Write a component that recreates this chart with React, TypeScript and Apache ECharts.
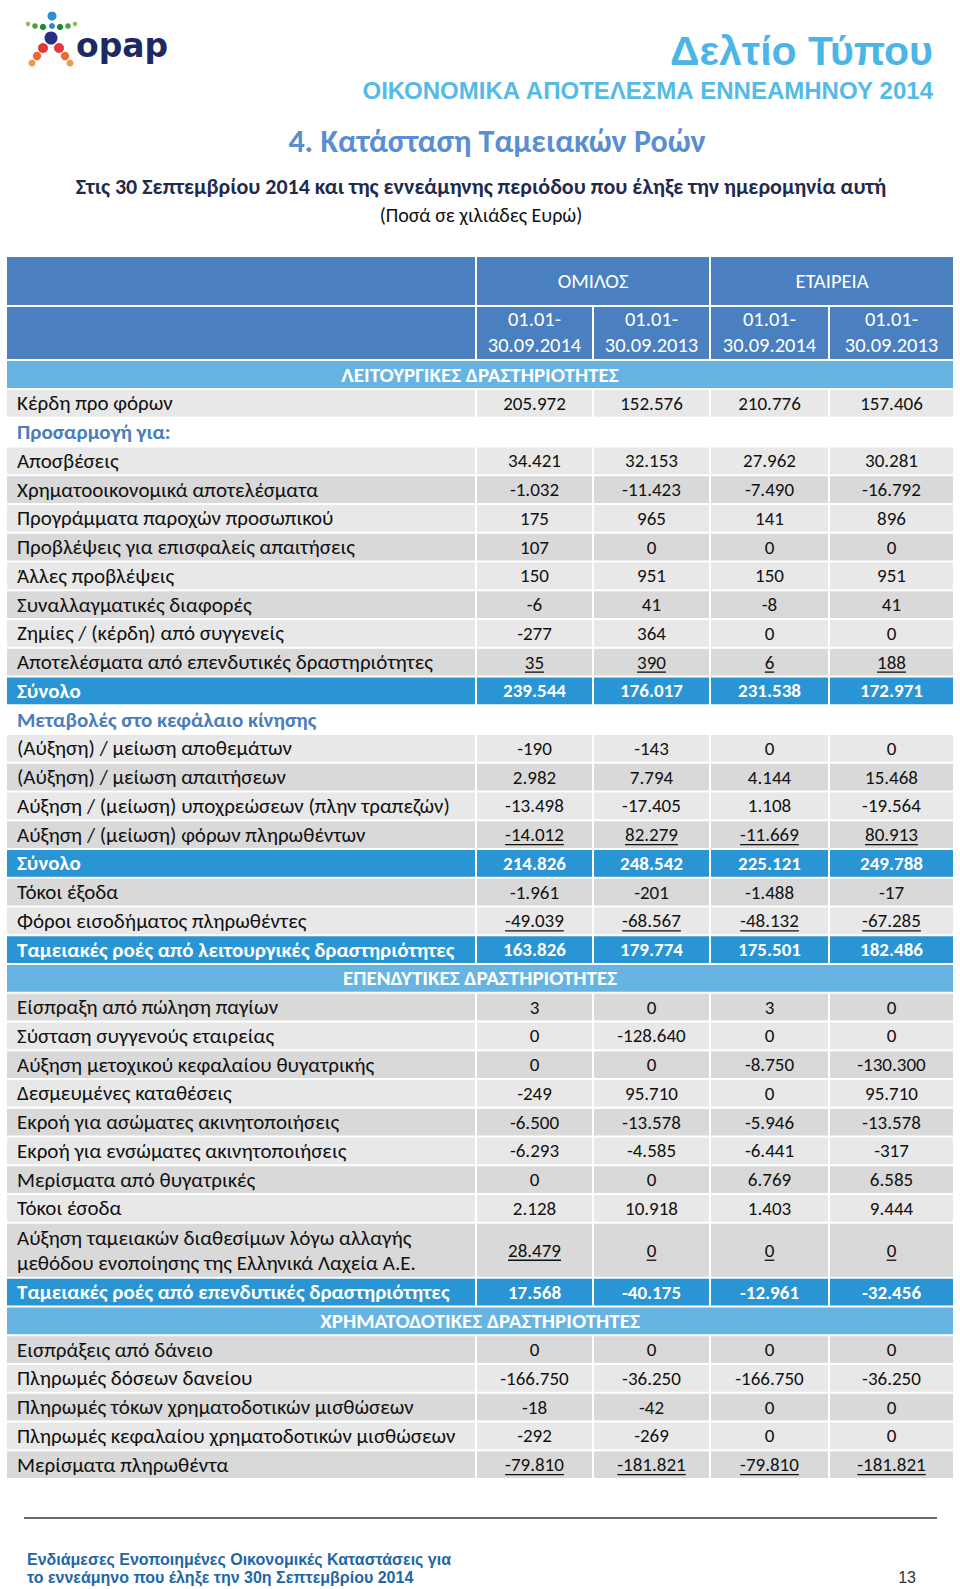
import React, { useEffect, useRef } from "react";
import * as echarts from "echarts";

// ---- data ----
const groupHeader = "ΟΜΙΛΟΣ";
const companyHeader = "ΕΤΑΙΡΕΙΑ";
const periodHeaders = ["01.01-\n30.09.2014", "01.01-\n30.09.2013", "01.01-\n30.09.2014", "01.01-\n30.09.2013"];
const firstSection = "ΛΕΙΤΟΥΡΓΙΚΕΣ ΔΡΑΣΤΗΡΙΟΤΗΤΕΣ";

// kind: r = row, s = sub heading, t = total, h = section band, d = double-line row
const rowKinds = [
  "r", "s", "r", "r", "r", "r", "r", "r", "r", "r", "t",
  "s", "r", "r", "r", "r", "t", "r", "r", "t",
  "h", "r", "r", "r", "r", "r", "r", "r", "r", "d", "t",
  "h", "r", "r", "r", "r", "r",
];
const rowLabels = [
  "Κέρδη προ φόρων",
  "Προσαρμογή για:",
  "Αποσβέσεις",
  "Χρηματοοικονομικά αποτελέσματα",
  "Προγράμματα παροχών προσωπικού",
  "Προβλέψεις για επισφαλείς απαιτήσεις",
  "Άλλες προβλέψεις",
  "Συναλλαγματικές διαφορές",
  "Ζημίες / (κέρδη) από συγγενείς",
  "Αποτελέσματα από επενδυτικές δραστηριότητες",
  "Σύνολο",
  "Μεταβολές στο κεφάλαιο κίνησης",
  "(Αύξηση) / μείωση αποθεμάτων",
  "(Αύξηση) / μείωση απαιτήσεων",
  "Αύξηση / (μείωση) υποχρεώσεων (πλην τραπεζών)",
  "Αύξηση / (μείωση) φόρων πληρωθέντων",
  "Σύνολο",
  "Τόκοι έξοδα",
  "Φόροι εισοδήματος πληρωθέντες",
  "Ταμειακές ροές από λειτουργικές δραστηριότητες",
  "ΕΠΕΝΔΥΤΙΚΕΣ ΔΡΑΣΤΗΡΙΟΤΗΤΕΣ",
  "Είσπραξη από πώληση παγίων",
  "Σύσταση συγγενούς εταιρείας",
  "Αύξηση μετοχικού κεφαλαίου θυγατρικής",
  "Δεσμευμένες καταθέσεις",
  "Εκροή για ασώματες ακινητοποιήσεις",
  "Εκροή για ενσώματες ακινητοποιήσεις",
  "Μερίσματα από θυγατρικές",
  "Τόκοι έσοδα",
  "Αύξηση ταμειακών διαθεσίμων λόγω αλλαγής\nμεθόδου ενοποίησης της Ελληνικά Λαχεία Α.Ε.",
  "Ταμειακές ροές από επενδυτικές δραστηριότητες",
  "ΧΡΗΜΑΤΟΔΟΤΙΚΕΣ ΔΡΑΣΤΗΡΙΟΤΗΤΕΣ",
  "Εισπράξεις από δάνειο",
  "Πληρωμές δόσεων δανείου",
  "Πληρωμές τόκων χρηματοδοτικών μισθώσεων",
  "Πληρωμές κεφαλαίου χρηματοδοτικών μισθώσεων",
  "Μερίσματα πληρωθέντα",
];
const underlined = [9, 15, 18, 29, 36];

const N = null;
const group2014 = [205972, N, 34421, -1032, 175, 107, 150, -6, -277, 35, 239544,
  N, -190, 2982, -13498, -14012, 214826, -1961, -49039, 163826,
  N, 3, 0, 0, -249, -6500, -6293, 0, 2128, 28479, 17568,
  N, 0, -166750, -18, -292, -79810];
const group2013 = [152576, N, 32153, -11423, 965, 0, 951, 41, 364, 390, 176017,
  N, -143, 7794, -17405, 82279, 248542, -201, -68567, 179774,
  N, 0, -128640, 0, 95710, -13578, -4585, 0, 10918, 0, -40175,
  N, 0, -36250, -42, -269, -181821];
const company2014 = [210776, N, 27962, -7490, 141, 0, 150, -8, 0, 6, 231538,
  N, 0, 4144, 1108, -11669, 225121, -1488, -48132, 175501,
  N, 3, 0, -8750, 0, -5946, -6441, 6769, 1403, 0, -12961,
  N, 0, -166750, 0, 0, -79810];
const company2013 = [157406, N, 30281, -16792, 896, 0, 951, 41, 0, 188, 172971,
  N, 0, 15468, -19564, 80913, 249788, -17, -67285, 182486,
  N, 0, 0, -130300, 95710, -13578, -317, 6585, 9444, 0, -32456,
  N, 0, -36250, 0, 0, -181821];

const titleMain = "Δελτίο Τύπου";
const titleSub = "ΟΙΚΟΝΟΜΙΚΑ ΑΠΟΤΕΛΕΣΜΑ ΕΝΝΕΑΜΗΝΟΥ 2014";
const sectionTitle = "4. Κατάσταση Ταμειακών Ροών";
const subtitle = "Στις 30 Σεπτεμβρίου 2014 και της εννεάμηνης περιόδου που έληξε την ημερομηνία αυτή";
const unitNote = "(Ποσά σε χιλιάδες Ευρώ)";
const footerLines = ["Ενδιάμεσες Ενοποιημένες Οικονομικές Καταστάσεις για", "το εννεάμηνο που έληξε την 30η Σεπτεμβρίου 2014"];
const pageNumber = "13";

// ---- helpers ----
function fmt(v: number | null): string {
  if (v === null) return "";
  const s = Math.abs(v).toString();
  let out = "";
  for (let i = 0; i < s.length; i++) {
    if (i > 0 && (s.length - i) % 3 === 0) out += ".";
    out += s[i];
  }
  return (v < 0 ? "-" : "") + out;
}

const CAL = "Carlito, Lato, 'Open Sans', sans-serif";
const ARIAL = "'Liberation Sans', Arial, sans-serif";
const NARROW = "'Liberation Sans Narrow', 'Arial Narrow', 'Liberation Sans', sans-serif";

let measureCtx: CanvasRenderingContext2D | null = null;
function textWidth(text: string, font: string): number {
  if (!measureCtx) measureCtx = document.createElement("canvas").getContext("2d");
  if (!measureCtx) return text.length * 9;
  measureCtx.font = font;
  return measureCtx.measureText(text).width;
}

function buildGraphics() {
  const els: any[] = [];
  const LFS = 21; // label font
  const NFS = 19; // numbers font
  const HFS = 20.5; // header font
  const tableL = 7;
  const labelR = 475;
  const cols = [[477, 592], [594, 709], [711, 828], [830, 953]];
  const tableR = 953;
  const cDark = "#D9D9D9";
  const cLight = "#E8E8E8";
  const cHead = "#4A80C0";
  const cBand = "#67B4E2";
  const cTotal = "#2A95D5";
  const cSubText = "#4A7EBB";

  const rect = (x: number, y: number, w: number, h: number, fill: string) =>
    els.push({ type: "rect", shape: { x, y, width: w, height: h }, style: { fill }, silent: true });
  const text = (t: string, x: number, y: number, font: string, fill: string, align = "left", va = "middle") =>
    els.push({ type: "text", style: { text: t, x, y, font, fill, textAlign: align, textVerticalAlign: va }, silent: true });

  // ---- logo ----
  const dots = [
    [52, 16, 4.5, "#2C8FD6"], [52, 26, 3, "#3C7FC8"],
    [28, 24, 2.2, "#8CBF3F"], [35, 26, 2.8, "#4FA23A"], [43, 27, 3.2, "#1E8A3A"],
    [75, 24, 2.2, "#8CBF3F"], [68, 26, 2.8, "#4FA23A"], [60, 27, 3.2, "#1E8A3A"],
    [51, 38, 6.5, "#2A2F86"],
    [43, 48, 5, "#E2383A"], [59, 48, 5, "#E2383A"],
    [37, 56, 4.2, "#EE6A2E"], [65, 56, 4.2, "#EE6A2E"],
    [32, 63, 3.5, "#F2984A"], [70, 63, 3.5, "#F2984A"],
  ] as any[];
  dots.forEach((d) => els.push({ type: "circle", shape: { cx: d[0], cy: d[1], r: d[2] }, style: { fill: d[3] }, silent: true }));
  text("opap", 76, 45, "bold 33px 'DejaVu Sans', " + ARIAL, "#1B2A63", "left", "middle");

  // ---- titles ----
  text(titleMain, 933, 71, "bold 41px " + ARIAL, "#4BB6E5", "right", "bottom");
  text(titleSub, 933, 102, "bold 24px " + ARIAL, "#55BAE6", "right", "bottom");
  text(sectionTitle, 497, 141, "bold 32px " + CAL, "#5A8ED3", "center", "middle");
  text(subtitle, 481, 186, "bold 22px " + CAL, "#1E2B4F", "center", "middle");
  text(unitNote, 481, 215, "20px " + CAL, "#111111", "center", "middle");

  // ---- table header ----
  rect(tableL, 257, labelR - tableL, 48, cHead);
  rect(tableL, 307, labelR - tableL, 52, cHead);
  rect(cols[0][0], 257, cols[1][1] - cols[0][0], 48, cHead);
  rect(cols[2][0], 257, cols[3][1] - cols[2][0], 48, cHead);
  text(groupHeader, (cols[0][0] + cols[1][1]) / 2, 281, HFS + "px " + CAL, "#FFFFFF", "center");
  text(companyHeader, (cols[2][0] + cols[3][1]) / 2, 281, HFS + "px " + CAL, "#FFFFFF", "center");
  cols.forEach((c, i) => {
    rect(c[0], 307, c[1] - c[0], 52, cHead);
    const parts = periodHeaders[i].split("\n");
    text(parts[0], (c[0] + c[1]) / 2, 319, HFS + "px " + CAL, "#FFFFFF", "center");
    text(parts[1], (c[0] + c[1]) / 2, 345, HFS + "px " + CAL, "#FFFFFF", "center");
  });
  rect(tableL, 361, tableR - tableL, 27, cBand);
  text(firstSection, (tableL + tableR) / 2, 375, "bold " + LFS + "px " + CAL, "#FFFFFF", "center");

  // ---- body ----
  const P = 28.75;
  const GAP = 2;
  const valueCols = [group2014, group2013, company2014, company2013];
  let y = 390;
  let excel = 0;
  rowLabels.forEach((label, i) => {
    const kind = rowKinds[i];
    const pitch = kind === "d" ? 55 : P;
    const h = pitch - GAP;
    const cy = y + h / 2;
    const dark = excel % 2 === 1;
    const gray = dark ? cDark : cLight;
    if (kind === "h") {
      rect(tableL, y, tableR - tableL, h, cBand);
      text(label, (tableL + tableR) / 2, cy, "bold " + LFS + "px " + CAL, "#FFFFFF", "center");
    } else if (kind === "s") {
      text(label, 17, cy, "bold " + LFS + "px " + CAL, cSubText);
    } else {
      const fill = kind === "t" ? cTotal : gray;
      const tc = kind === "t" ? "#FFFFFF" : "#111111";
      const bold = kind === "t" ? "bold " : "";
      const lfont = bold + LFS + "px " + CAL;
      const nfont = bold + NFS + "px " + CAL;
      rect(tableL, y, labelR - tableL, h, fill);
      if (kind === "d") {
        const parts = label.split("\n");
        text(parts[0], 17, cy - 12.5, lfont, tc);
        text(parts[1], 17, cy + 12.5, lfont, tc);
      } else {
        text(label, 17, cy, lfont, tc);
      }
      cols.forEach((c, j) => {
        rect(c[0], y, c[1] - c[0], h, fill);
        const s = fmt(valueCols[j][i]);
        const cx = (c[0] + c[1]) / 2;
        text(s, cx, cy, nfont, tc, "center");
        if (underlined.indexOf(i) >= 0) {
          const w = textWidth(s, nfont);
          els.push({
            type: "line",
            shape: { x1: cx - w / 2, y1: cy + 10, x2: cx + w / 2, y2: cy + 10 },
            style: { stroke: tc, lineWidth: 1.3 },
            silent: true,
          });
        }
      });
    }
    excel += kind === "d" ? 2 : 1;
    y += pitch;
  });

  // ---- footer ----
  els.push({ type: "line", shape: { x1: 24, y1: 1518, x2: 937, y2: 1518 }, style: { stroke: "#3A3A3A", lineWidth: 1.6 }, silent: true });
  text(footerLines[0], 27, 1559, "bold 16px " + NARROW, "#1C67A8");
  text(footerLines[1], 27, 1577, "bold 16px " + NARROW, "#1C67A8");
  text(pageNumber, 916, 1577, "16px " + NARROW, "#333333", "right");
  return els;
}

export default function App() {
  const ref = useRef<HTMLDivElement>(null);
  useEffect(() => {
    if (!ref.current) return;
    const chart = echarts.init(ref.current, null, { renderer: "svg" });
    chart.setOption({
      animation: false,
      backgroundColor: "#FFFFFF",
      graphic: { elements: buildGraphics() },
    });
    return () => chart.dispose();
  }, []);
  return (
    <div
      ref={ref}
      style={{ position: "absolute", left: 0, top: 0, width: 960, height: 1589 }}
    />
  );
}
